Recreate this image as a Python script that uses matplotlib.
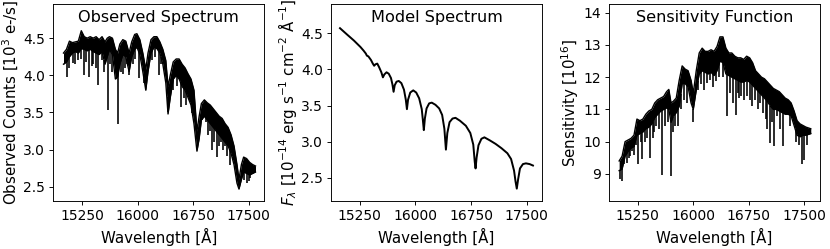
import numpy as np
import matplotlib
matplotlib.use("Agg")
import matplotlib.pyplot as plt

# ---------------- observed spectrum (10^3 e-/s) ----------------
obs_wave = [15000, 15040, 15080, 15120, 15160, 15200, 15240, 15280, 15320, 15360,
            15400, 15440, 15480, 15520, 15560, 15590, 15620, 15660, 15700, 15730,
            15760, 15800, 15840, 15885, 15920, 15960, 15990, 16030, 16070, 16110,
            16140, 16180, 16220, 16260, 16300, 16340, 16380, 16410, 16440, 16480,
            16520, 16560, 16600, 16640, 16680, 16720, 16760, 16800, 16830, 16860,
            16900, 16940, 16980, 17020, 17060, 17100, 17140, 17180, 17220, 17260,
            17300, 17340, 17367, 17400, 17430, 17470, 17510, 17550, 17590]
obs_upper = [4.30, 4.35, 4.46, 4.44, 4.45, 4.46, 4.60, 4.52, 4.50, 4.52,
             4.50, 4.52, 4.48, 4.52, 4.45, 4.50, 4.52, 4.50, 4.35, 4.30,
             4.42, 4.48, 4.46, 4.30, 4.45, 4.55, 4.56, 4.48, 4.30, 4.08,
             4.30, 4.48, 4.52, 4.52, 4.45, 4.35, 4.20, 3.85, 4.00, 4.18,
             4.22, 4.22, 4.15, 4.10, 4.02, 3.95, 3.80, 3.25, 3.45, 3.62,
             3.67, 3.63, 3.60, 3.55, 3.50, 3.45, 3.42, 3.35, 3.30, 3.20,
             3.05, 2.80, 2.60, 2.80, 2.90, 2.88, 2.83, 2.80, 2.78]
obs_lower = [4.15, 4.18, 4.25, 4.30, 4.32, 4.30, 4.36, 4.35, 4.33, 4.35,
             4.32, 4.30, 4.28, 4.32, 4.15, 4.25, 4.35, 4.28, 3.95, 3.98,
             4.15, 4.28, 4.25, 4.05, 4.25, 4.35, 4.38, 4.28, 4.05, 3.80,
             4.05, 4.30, 4.38, 4.36, 4.30, 4.15, 3.90, 3.48, 3.70, 3.95,
             4.00, 3.95, 3.85, 3.80, 3.70, 3.60, 3.35, 2.98, 3.15, 3.40,
             3.45, 3.40, 3.35, 3.30, 3.25, 3.20, 3.15, 3.10, 3.05, 2.95,
             2.80, 2.55, 2.47, 2.60, 2.70, 2.68, 2.66, 2.68, 2.70]
obs_line_wave = [15047, 15080, 15127, 15160, 15200, 15230, 15270, 15300, 15342, 15380,
                 15400, 15440, 15470, 15520, 15550, 15595, 15630, 15660, 15738, 15770,
                 15800, 15830, 15850, 15890, 15940, 15970, 16023, 16080, 16200, 16240,
                 16290, 16320, 16350, 16410, 16480, 16530, 16590, 16620, 16650, 16700,
                 16740, 16870, 16918, 16950, 16970, 17000, 17030, 17070, 17100, 17120,
                 17150, 17180, 17210, 17249, 17290, 17440, 17480, 17500, 17520]
obs_line_bottom = [3.98, 4.10, 4.17, 4.15, 4.20, 4.22, 4.00, 4.18, 3.98, 4.12,
                   4.15, 4.10, 3.87, 4.20, 4.05, 3.53, 4.15, 4.05, 3.34, 4.05,
                   4.02, 4.10, 4.15, 4.00, 4.15, 4.22, 3.96, 3.90, 4.20, 4.25,
                   4.00, 4.15, 4.10, 3.71, 3.80, 3.85, 3.58, 3.70, 3.60, 3.75,
                   3.68, 3.40, 3.37, 3.20, 3.25, 2.99, 3.10, 2.90, 3.05, 3.10,
                   3.00, 3.05, 2.92, 2.79, 2.90, 2.59, 2.55, 2.58, 2.62]

# ---------------- model spectrum (10^-14 erg/s/cm2/A) ----------------
model_wave = [14982, 15080, 15169, 15258, 15300, 15330, 15345, 15365, 15400, 15425,
              15443, 15460, 15485, 15510, 15540, 15561, 15580, 15610, 15640, 15670,
              15690, 15705, 15720, 15745, 15775, 15810, 15845, 15870, 15885, 15900,
              15930, 15970, 16010, 16050, 16085, 16100, 16113, 16127, 16150, 16185,
              16220, 16270, 16320, 16360, 16390, 16411, 16430, 16460, 16500, 16540,
              16600, 16680, 16740, 16780, 16800, 16811, 16825, 16850, 16890, 16930,
              17000, 17080, 17160, 17240, 17290, 17330, 17350, 17367, 17385, 17410,
              17450, 17490, 17540, 17585]
model_flux = [4.57, 4.48, 4.40, 4.31, 4.26, 4.22, 4.19, 4.18, 4.13, 4.08,
              4.05, 4.07, 4.08, 4.03, 3.96, 3.89, 3.93, 3.96, 3.94, 3.88,
              3.79, 3.69, 3.78, 3.83, 3.84, 3.81, 3.72, 3.58, 3.45, 3.58,
              3.68, 3.71, 3.68, 3.60, 3.45, 3.30, 3.16, 3.32, 3.46, 3.53,
              3.54, 3.51, 3.46, 3.37, 3.18, 2.89, 3.12, 3.27, 3.32, 3.33,
              3.29, 3.22, 3.12, 2.96, 2.72, 2.63, 2.78, 2.95, 3.04, 3.06,
              3.02, 2.97, 2.91, 2.84, 2.76, 2.60, 2.45, 2.35, 2.48, 2.63,
              2.69, 2.70, 2.69, 2.67]

# ---------------- sensitivity function (10^16) ----------------
sens_wave = [15000, 15040, 15080, 15120, 15160, 15200, 15240, 15280, 15320, 15360,
             15400, 15440, 15480, 15520, 15560, 15600, 15640, 15670, 15700, 15730,
             15770, 15810, 15850, 15890, 15930, 15970, 16000, 16040, 16080, 16120,
             16160, 16200, 16240, 16280, 16320, 16360, 16400, 16440, 16480, 16520,
             16560, 16600, 16640, 16680, 16720, 16760, 16800, 16840, 16880, 16920,
             16960, 17000, 17040, 17080, 17120, 17160, 17200, 17240, 17280, 17320,
             17360, 17400, 17440, 17480, 17520, 17585]
sens_upper = [9.40, 9.55, 10.00, 10.05, 10.10, 10.20, 10.70, 10.65, 10.70, 10.85,
              10.95, 11.00, 11.20, 11.30, 11.35, 11.40, 11.55, 11.62, 11.20, 11.25,
              11.35, 11.90, 12.35, 12.25, 12.20, 11.90, 11.50, 12.20, 12.75, 12.90,
              12.80, 12.80, 12.85, 12.80, 12.95, 13.25, 13.25, 12.90, 12.75, 12.75,
              12.65, 12.60, 12.60, 12.55, 12.65, 12.60, 12.45, 12.20, 12.10, 12.00,
              11.95, 11.85, 11.75, 11.65, 11.60, 11.55, 11.45, 11.35, 11.30, 11.20,
              10.95, 10.65, 10.55, 10.50, 10.45, 10.40]
sens_lower = [9.10, 9.15, 9.55, 9.70, 9.80, 9.85, 10.20, 10.25, 10.30, 10.40,
              10.45, 10.55, 10.75, 10.85, 10.95, 11.00, 11.05, 11.00, 10.60, 10.80,
              10.90, 11.10, 11.80, 11.80, 11.70, 11.20, 11.00, 11.60, 12.10, 12.20,
              12.15, 12.10, 12.15, 12.05, 12.20, 12.50, 12.45, 12.10, 12.05, 12.00,
              11.95, 11.90, 11.85, 11.85, 11.90, 11.85, 11.75, 11.65, 11.55, 11.45,
              11.35, 11.25, 11.10, 11.00, 11.00, 10.95, 10.90, 10.85, 10.85, 10.80,
              10.50, 10.20, 10.15, 10.20, 10.20, 10.25]
sens_line_wave = [15010, 15040, 15070, 15100, 15130, 15150, 15180, 15200, 15230, 15260,
                  15290, 15308, 15350, 15380, 15420, 15450, 15470, 15500, 15540, 15580,
                  15620, 15660, 15696, 15720, 15750, 15790, 15830, 15870, 15920, 16000,
                  16060, 16100, 16140, 16180, 16220, 16260, 16300, 16350, 16400, 16453,
                  16500, 16540, 16573, 16600, 16620, 16650, 16680, 16720, 16760, 16790,
                  16830, 16870, 16900, 16940, 16980, 17000, 17041, 17060, 17085, 17130,
                  17170, 17210, 17260, 17300, 17330, 17380, 17420, 17462, 17500, 17540]
sens_line_bottom = [8.83, 8.78, 9.30, 9.34, 9.50, 9.55, 9.70, 9.60, 9.90, 9.30,
                    10.00, 9.46, 10.00, 10.10, 9.50, 10.10, 10.30, 10.50, 10.40, 8.97,
                    10.50, 10.60, 8.92, 10.30, 10.47, 10.47, 11.00, 11.30, 11.20, 10.62,
                    11.60, 11.80, 11.60, 11.83, 11.90, 11.70, 11.88, 12.00, 12.00, 10.80,
                    11.50, 11.20, 10.83, 11.50, 11.35, 11.40, 11.30, 11.40, 11.30, 11.10,
                    11.30, 11.00, 11.20, 10.90, 10.70, 10.40, 9.95, 10.60, 9.85, 10.80,
                    10.40, 9.85, 10.90, 10.50, 10.85, 10.00, 9.90, 9.30, 9.42, 9.90]

plt.rcParams['font.family'] = ['DejaVu Sans']
plt.rcParams['font.size'] = 13
plt.rcParams['xtick.labelsize'] = 12
plt.rcParams['ytick.labelsize'] = 12

fig, axes = plt.subplots(1, 3, figsize=(10, 3), dpi=83)
plt.subplots_adjust(left=0.064, right=0.988, bottom=0.193, top=0.984, wspace=0.315)


def draw_band(ax, wave, upper, lower, line_wave, line_bottom):
    """noisy spectrum drawn as a dense black band with narrow absorption lines"""
    ax.fill_between(wave, lower, upper, color='k', lw=0)
    ax.plot(wave, upper, 'k-', lw=1.2)
    ax.plot(wave, lower, 'k-', lw=1.2)
    tops = np.interp(line_wave, wave, lower) + 0.02
    ax.vlines(line_wave, line_bottom, tops, color='k', lw=1.4)


ax1, ax2, ax3 = axes
draw_band(ax1, obs_wave, obs_upper, obs_lower, obs_line_wave, obs_line_bottom)
ax1.set_ylim(2.31, 4.96)
ax1.set_ylabel('Observed Counts [10$^3$ e-/s]', labelpad=2)
ax1.text(0.5, 0.93, 'Observed Spectrum', transform=ax1.transAxes,
         ha='center', va='center', fontsize=14)

ax2.plot(model_wave, model_flux, 'k-', lw=1.7)
ax2.set_ylim(2.18, 4.905)
ax2.set_ylabel(r'$F_\lambda$ [10$^{-14}$ erg s$^{-1}$ cm$^{-2}$ Å$^{-1}$]', labelpad=2)
ax2.text(0.5, 0.93, 'Model Spectrum', transform=ax2.transAxes,
         ha='center', va='center', fontsize=14)

draw_band(ax3, sens_wave, sens_upper, sens_lower, sens_line_wave, sens_line_bottom)
ax3.set_ylim(8.16, 14.27)
ax3.set_yticks([9, 10, 11, 12, 13, 14])
ax3.set_ylabel('Sensitivity [10$^{16}$]', labelpad=2)
ax3.text(0.5, 0.93, 'Sensitivity Function', transform=ax3.transAxes,
         ha='center', va='center', fontsize=14)

for ax in axes:
    ax.set_xlim(14860, 17710)
    ax.set_xticks([15250, 16000, 16750, 17500])
    ax.set_xlabel('Wavelength [Å]')

plt.savefig('out.png', dpi=83)
